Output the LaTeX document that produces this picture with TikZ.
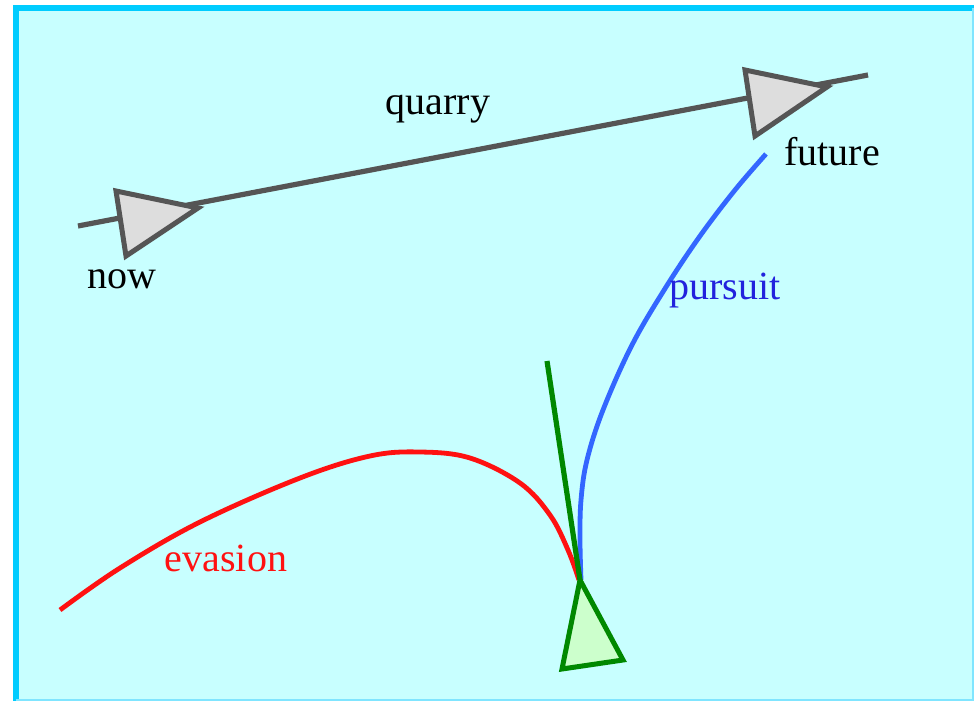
\documentclass[tikz,border=0pt]{standalone}
\usepackage{fontspec}
\setmainfont{Liberation Serif}
\begin{document}
\begin{tikzpicture}[x=1pt,y=-1pt,
  lbl/.style={font=\fontsize{40}{44}\selectfont, inner sep=0pt},
  tri/.style={line width=5pt, line join=miter},
  path/.style={line width=4.8pt}]
\definecolor{bgc}{HTML}{C8FFFF}
\definecolor{frm}{HTML}{00CCFF}
\definecolor{dg}{HTML}{555555}
\definecolor{tg}{HTML}{DDDDDD}
\definecolor{gr}{HTML}{008800}
\definecolor{lg}{HTML}{CCFFCC}
\definecolor{bl}{HTML}{3366FF}
\definecolor{blt}{HTML}{2222DD}
\definecolor{rd}{HTML}{FF1111}
\useasboundingbox (0,0) rectangle (974,701);
% background and frame
\fill[bgc] (13,5) rectangle (974,701);
\draw[frm, line width=6pt] (16,701) -- (16,8) -- (974,8);
\draw[frm!50, line width=1.5pt] (973,8) -- (973,700) -- (16,700);
% coordinates
\coordinate (qs) at (78,226);
\coordinate (qe) at (868,75);
\coordinate (n1) at (116,191);
\coordinate (n2) at (198,208);
\coordinate (n3) at (126,256);
\coordinate (f1) at (745,70);
\coordinate (f2) at (827,87);
\coordinate (f3) at (755,136);
\coordinate (gt) at (547,361);
\coordinate (g1) at (580,580);
\coordinate (g2) at (623,660);
\coordinate (g3) at (562,669);
% quarry
\draw[dg, line width=5.2pt] (qs) -- (qe);
\draw[tri, draw=dg, fill=tg] (n1) -- (n2) -- (n3) -- cycle;
\draw[tri, draw=dg, fill=tg] (f1) -- (f2) -- (f3) -- cycle;
\node[lbl] (now) at (122,279) {now};
\node[lbl] (quarry) at (438,109) {quarry};
\node[lbl] (future) at (832,152) {future};
% evasion
\draw[rd, path] plot[smooth, tension=0.6] coordinates {(60,610) (120,568) (200,522) (300,478) (370,456) (420,452) (470,458) (520,483) (550,515) (568,550) (579,580)};
\node[lbl, text=rd] (evasion) at (226,558) {evasion};
% pursuit
\draw[bl, path] plot[smooth, tension=0.6] coordinates {(766,154) (735,190) (700,236) (666,287) (632,345) (603,410) (587,460) (581,500) (580,540) (581,580)};
\node[lbl, text=blt] (pursuit) at (725,291) {pursuit};
% pursuer
\draw[gr, line width=5.2pt] (gt) -- (g1);
\draw[tri, draw=gr, fill=lg] (g1) -- (g2) -- (g3) -- cycle;
\end{tikzpicture}
\end{document}
